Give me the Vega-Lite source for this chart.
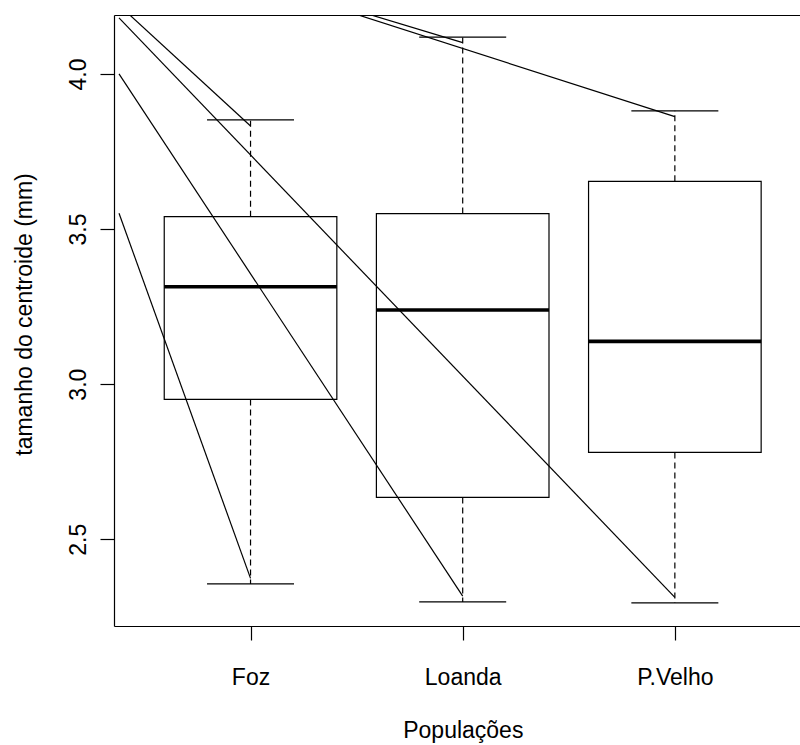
{
  "$schema": "https://vega.github.io/schema/vega-lite/v6.json",
  "width": 686,
  "height": 611,
  "autosize": "none",
  "padding": {"left": 114, "top": 15, "right": 0, "bottom": 119},
  "background": "white",
  "config": {
    "font": "Liberation Sans",
    "view": {"stroke": null},
    "axis": {
      "domainColor": "black", "domainWidth": 1.2, "tickColor": "black", "tickWidth": 1.2,
      "labelColor": "black", "titleColor": "black", "grid": false,
      "labelFont": "Liberation Sans", "titleFont": "Liberation Sans",
      "labelFontSize": 23, "titleFontSize": 23, "titleFontWeight": "normal"
    },
    "axisY": {
      "tickSize": 14, "labelPadding": 15, "labelAngle": 270, "labelAlign": "center",
      "labelBaseline": "alphabetic", "titleAngle": 270, "titleX": -83, "titleY": 299,
      "titleAlign": "center", "titleBaseline": "alphabetic"
    }
  },
  "datasets": {
    "boxes": [
      {"grp": "Foz", "pos": 1, "lower": 2.356, "q1": 2.951, "median": 3.314, "q3": 3.540, "upper": 3.852},
      {"grp": "Loanda", "pos": 2, "lower": 2.298, "q1": 2.635, "median": 3.239, "q3": 3.550, "upper": 4.119},
      {"grp": "P.Velho", "pos": 3, "lower": 2.295, "q1": 2.78, "median": 3.138, "q3": 3.654, "upper": 3.881}
    ],
    "segments": [
      {"id": "A", "x1": 0.38, "y1": 4.222, "x2": 1.0, "y2": 3.832},
      {"id": "B", "x1": 0.38, "y1": 4.1805, "x2": 3.0, "y2": 2.313},
      {"id": "C", "x1": 0.38, "y1": 4.0, "x2": 2.0, "y2": 2.317},
      {"id": "D", "x1": 0.38, "y1": 3.551, "x2": 1.0, "y2": 2.374},
      {"id": "E", "x1": 1.3827, "y1": 4.2285, "x2": 2.0, "y2": 4.1009},
      {"id": "F", "x1": 1.3363, "y1": 4.2278, "x2": 3.0, "y2": 3.8623}
    ]
  },
  "resolve": {"axis": {"x": "independent"}},
  "layer": [
    {
      "data": {"name": "boxes"},
      "mark": {"type": "bar", "width": 172.6, "filled": false, "stroke": "black", "strokeWidth": 1.2},
      "encoding": {
        "x": {"field": "pos", "type": "quantitative",
          "scale": {"domain": [0.38, 3.5663], "nice": false, "zero": false},
          "axis": {"orient": "bottom", "values": [1, 2, 3], "tickSize": 14, "labelPadding": 44,
            "labelBaseline": "alphabetic", "labelAlign": "center",
            "labelExpr": "datum.value == 1 ? 'Foz' : datum.value == 2 ? 'Loanda' : 'P.Velho'",
            "title": "Populações", "titleX": 348.8, "titleY": 111, "titleAlign": "center",
            "titleBaseline": "alphabetic", "titleAnchor": null}},
        "y": {"field": "q1", "type": "quantitative",
          "scale": {"domain": [2.2205, 4.19], "nice": false, "zero": false},
          "axis": {"values": [2.5, 3.0, 3.5, 4.0], "format": ".1f"},
          "title": "tamanho do centroide (mm)"},
        "y2": {"field": "q3"}
      }
    },
    {
      "data": {"name": "boxes"},
      "mark": {"type": "rule", "stroke": "black", "strokeWidth": 1.2, "strokeDash": [6, 4]},
      "encoding": {
        "x": {"field": "pos", "type": "quantitative", "axis": null},
        "y": {"field": "q3", "type": "quantitative", "title": "tamanho do centroide (mm)"},
        "y2": {"field": "upper"}
      }
    },
    {
      "data": {"name": "boxes"},
      "mark": {"type": "rule", "stroke": "black", "strokeWidth": 1.2, "strokeDash": [6, 4]},
      "encoding": {
        "x": {"field": "pos", "type": "quantitative", "axis": null},
        "y": {"field": "q1", "type": "quantitative", "title": "tamanho do centroide (mm)"},
        "y2": {"field": "lower"}
      }
    },
    {
      "data": {"name": "boxes"},
      "mark": {"type": "tick", "orient": "horizontal", "size": 87, "thickness": 1.2, "color": "black", "opacity": 1},
      "encoding": {
        "x": {"field": "pos", "type": "quantitative", "axis": null},
        "y": {"field": "upper", "type": "quantitative", "title": "tamanho do centroide (mm)"}
      }
    },
    {
      "data": {"name": "boxes"},
      "mark": {"type": "tick", "orient": "horizontal", "size": 87, "thickness": 1.2, "color": "black", "opacity": 1},
      "encoding": {
        "x": {"field": "pos", "type": "quantitative", "axis": null},
        "y": {"field": "lower", "type": "quantitative", "title": "tamanho do centroide (mm)"}
      }
    },
    {
      "data": {"name": "boxes"},
      "mark": {"type": "tick", "orient": "horizontal", "size": 172.6, "thickness": 3.6, "color": "black", "opacity": 1},
      "encoding": {
        "x": {"field": "pos", "type": "quantitative", "axis": null},
        "y": {"field": "median", "type": "quantitative", "title": "tamanho do centroide (mm)"}
      }
    },
    {
      "data": {"name": "segments"},
      "mark": {"type": "rule", "stroke": "black", "strokeWidth": 1.2, "clip": true},
      "encoding": {
        "x": {"field": "x1", "type": "quantitative",
          "axis": {"orient": "top", "labels": false, "ticks": false, "title": null, "domain": true}},
        "y": {"field": "y1", "type": "quantitative", "title": "tamanho do centroide (mm)"},
        "x2": {"field": "x2"},
        "y2": {"field": "y2"}
      }
    }
  ]
}
